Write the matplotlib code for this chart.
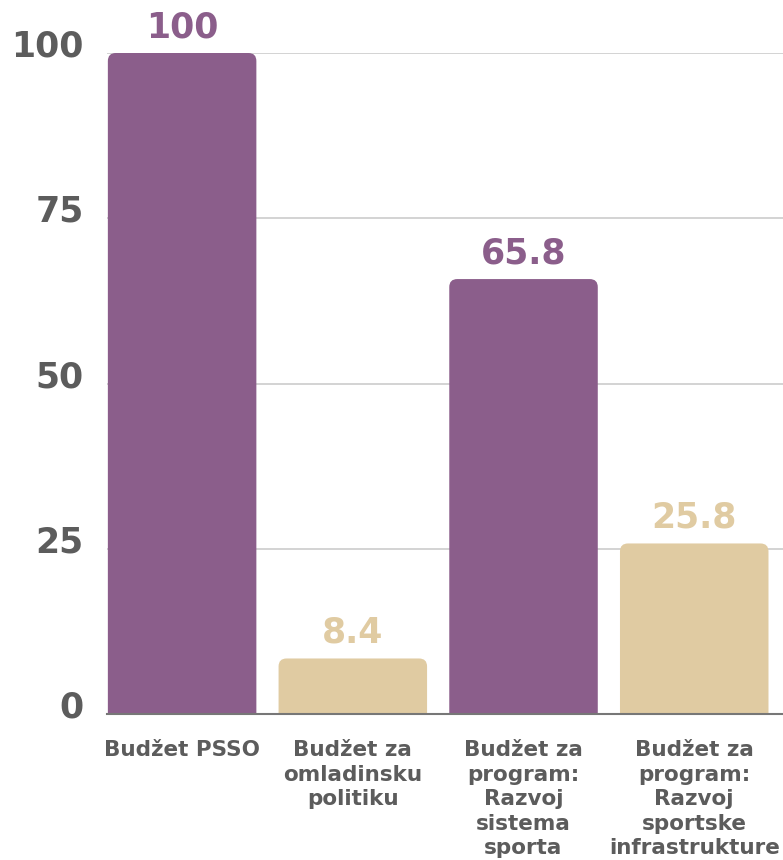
import matplotlib
matplotlib.use("Agg")
import matplotlib.pyplot as plt
import matplotlib.transforms as mtransforms
from matplotlib.patches import FancyBboxPatch

CATEGORIES = [
    "Budžet PSSO",
    "Budžet za\nomladinsku\npolitiku",
    "Budžet za\nprogram:\nRazvoj\nsistema\nsporta",
    "Budžet za\nprogram:\nRazvoj\nsportske\ninfrastrukture",
]
VALUES = [100, 8.4, 65.8, 25.8]
VALUE_LABELS = ["100", "8.4", "65.8", "25.8"]
Y_TICKS = [0, 25, 50, 75, 100]

PURPLE = "#8b5e8b"
BEIGE = "#e0cba2"
BAR_COLORS = [PURPLE, BEIGE, PURPLE, BEIGE]
TEXT_GREY = "#5c5c5c"

W, H = 783, 860
fig = plt.figure(figsize=(W / 100, H / 100), dpi=100)
ax = fig.add_axes([107 / W, 146 / H, 1 - 107 / W, (714 - 53) / H])

x0, x1 = -0.44, 3.52
ax.set_xlim(x0, x1)
ax.set_ylim(0, 100)

# bars with rounded top corners; bottom corners hidden under the axis
bar_w = 0.87
px_per_x = (W - 107) / (x1 - x0)
px_per_y = (714 - 53) / 100
radius_px = 8
rs = radius_px / px_per_x
aspect = px_per_x / px_per_y

for i, (v, c) in enumerate(zip(VALUES, BAR_COLORS)):
    patch = FancyBboxPatch(
        (i - bar_w / 2, -5), bar_w, v + 5,
        boxstyle=f"round,pad=0,rounding_size={rs}",
        mutation_aspect=aspect,
        facecolor=c, edgecolor="none", zorder=3,
    )
    ax.add_patch(patch)
    ax.text(i, v + 1.3, VALUE_LABELS[i], ha="center", va="bottom",
            fontsize=25, fontweight="black", color=c, zorder=4)

ax.set_yticks(Y_TICKS)
ax.set_yticklabels([str(t) for t in Y_TICKS])
ax.yaxis.grid(True, color="#cccccc", linewidth=1.2, zorder=0)
ax.set_axisbelow(True)
ax.tick_params(axis="y", length=0, pad=17, labelsize=25, labelcolor=TEXT_GREY)
shift_up = mtransforms.ScaledTranslation(0, 10 / 100, fig.dpi_scale_trans)
for lab in ax.get_yticklabels():
    lab.set_fontweight("bold")
    lab.set_transform(lab.get_transform() + shift_up)

ax.set_xticks(range(len(CATEGORIES)))
ax.set_xticklabels(CATEGORIES, fontsize=15.5, fontweight="bold", color=TEXT_GREY,
                   linespacing=1.28)
ax.tick_params(axis="x", length=0, pad=19)

for side in ["top", "right", "left"]:
    ax.spines[side].set_visible(False)
ax.spines["bottom"].set_color("#777777")
ax.spines["bottom"].set_linewidth(1.5)
ax.spines["bottom"].set_zorder(5)

fig.savefig("out.png", dpi=100)
